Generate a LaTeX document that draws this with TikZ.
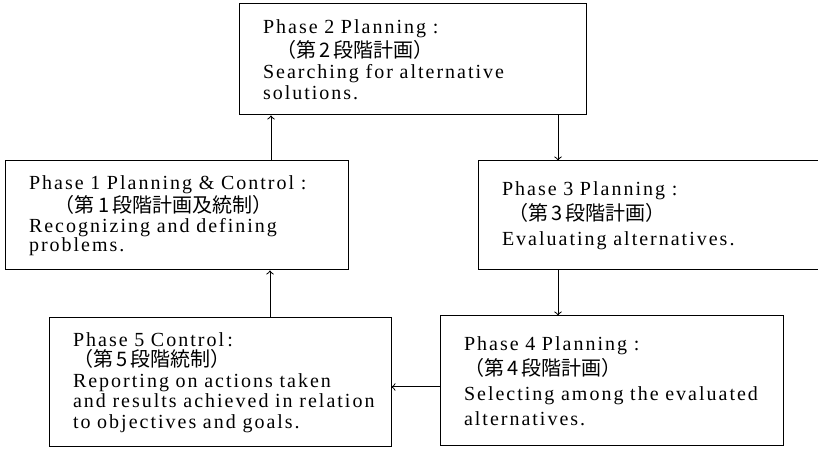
\documentclass[tikz,border=0pt]{standalone}
\usepackage{fontspec}
\setmainfont{Liberation Serif}[LetterSpace=10,WordSpace=1.8]
\newfontfamily\jpfont{Noto Sans CJK JP}

\begin{document}
\begin{tikzpicture}[x=0.5pt,y=0.5pt]
        \tikzset{phase/.style={draw,rectangle,line width=0.5pt,align=left,
                inner xsep=12pt,inner ysep=0pt},
            flow/.style={->,line width=0.5pt}}
        \useasboundingbox (0,0) rectangle (818,449);
        % top row
        \node[phase,text width=149.5pt,minimum height=55.5pt,
            font=\fontsize{10}{10.5}\selectfont] (plan2) at (412.5,389.5)
            {Phase 2 Planning :\\
             \hspace*{6.5pt}{\jpfont （第\,2\,段階計画）}\\
             Searching for alternative\\
             solutions.};
        % middle row
        \node[phase,text width=147.5pt,minimum height=54.5pt,
            font=\fontsize{10}{9.6}\selectfont] (plan1) at (176.5,233.5)
            {\mbox{Phase 1 Planning \& Control :}\\
             \hspace*{13pt}{\jpfont （第\,1\,段階計画及統制）}\\
             Recognizing and defining\\
             problems.};
        \node[phase,text width=148pt,minimum height=54.5pt,
            font=\fontsize{10}{12.5}\selectfont] (plan3) at (650,233.5)
            {Phase 3 Planning :\\
             \hspace*{3pt}{\jpfont （第\,3\,段階計画）}\\
             Evaluating alternatives.};
        % bottom row
        \node[phase,text width=147.5pt,minimum height=65pt,
            font=\fontsize{10}{12.5}\selectfont] (plan4) at (611.5,68)
            {Phase 4 Planning :\\
             {\jpfont （第\,4\,段階計画）}\\
             \mbox{Selecting among the evaluated}\\
             alternatives.};
        \node[phase,text width=147pt,minimum height=64.5pt,
            font=\fontsize{10}{10.25}\selectfont] (control5) at (220,66.5)
            {Phase 5 Control\,:\\
             {\jpfont （第\,5\,段階統制）}\\
             Reporting on actions taken\\
             \mbox{and results achieved in relation}\\
             to objectives and goals.};
        % connectors
        \coordinate (c12) at ([xshift=47.25pt]plan1.north);
        \coordinate (c23) at ([xshift=72.75pt]plan2.south);
        \coordinate (c34) at ([xshift=-46pt]plan3.south);
        \coordinate (c45) at ([yshift=-3pt]plan4.west);
        \coordinate (c51) at ([xshift=25pt]control5.north);
        \draw[flow] (c12) -- (c12 |- plan2.south);
        \draw[flow] (c23) -- (c23 |- plan3.north);
        \draw[flow] (c34) -- (c34 |- plan4.north);
        \draw[flow] (c45) -- (c45 -| control5.east);
        \draw[flow] (c51) -- (c51 |- plan1.south);
\end{tikzpicture}
\end{document}
